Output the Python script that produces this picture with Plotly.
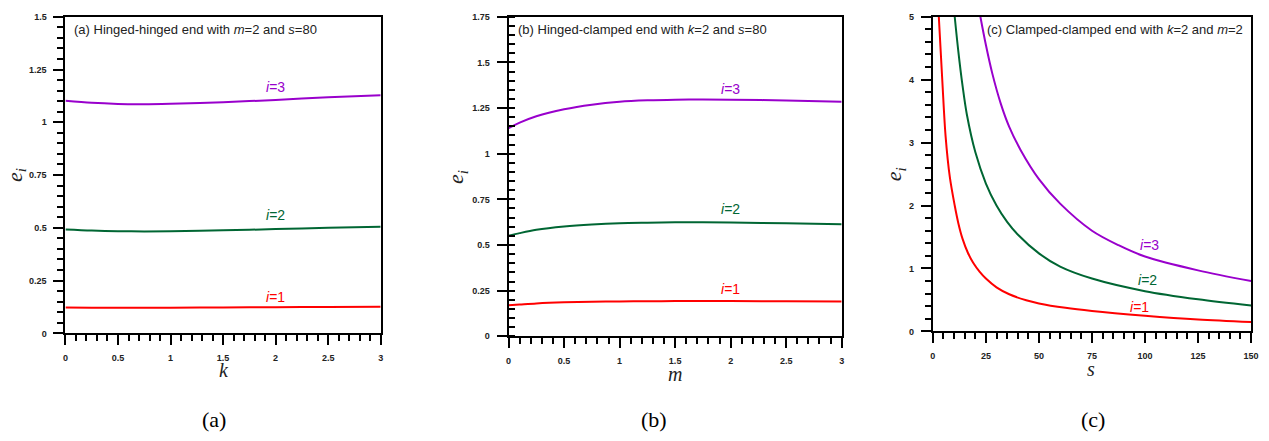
import plotly.graph_objects as go

# ---------------- data ----------------
# Panel (a): hinged-hinged, x = k
k_vals = [0, 0.25, 0.5, 0.75, 1, 1.5, 2, 2.5, 3]
a_i1 = [0.123, 0.122, 0.121, 0.121, 0.122, 0.123, 0.124, 0.125, 0.126]
a_i2 = [0.492, 0.487, 0.484, 0.483, 0.484, 0.488, 0.494, 0.500, 0.505]
a_i3 = [1.102, 1.092, 1.087, 1.086, 1.088, 1.095, 1.106, 1.118, 1.128]

# Panel (b): hinged-clamped, x = m
m_vals = [0, 0.1, 0.25, 0.5, 0.75, 1, 1.25, 1.5, 1.75, 2, 2.5, 3]
b_i1 = [0.170, 0.174, 0.180, 0.186, 0.189, 0.191, 0.192, 0.193, 0.193, 0.193, 0.192, 0.191]
b_i2 = [0.551, 0.565, 0.583, 0.601, 0.612, 0.619, 0.622, 0.624, 0.624, 0.623, 0.619, 0.614]
b_i3 = [1.140, 1.170, 1.205, 1.243, 1.268, 1.284, 1.292, 1.296, 1.297, 1.296, 1.291, 1.284]

# Panel (c): clamped-clamped, x = s
c_s1 = [2.8, 4.5, 6, 8, 10.3, 12, 14, 16.5, 19, 22, 25, 30, 36, 44, 50, 62.5, 75, 100, 125, 150]
c_i1 = [5.0, 3.95, 3.1, 2.45, 2.0, 1.72, 1.47, 1.25, 1.09, 0.95, 0.84, 0.70, 0.59, 0.495, 0.445, 0.375, 0.325, 0.25, 0.19, 0.15]
c_s2 = [10.3, 12, 14, 16, 20, 25, 30, 35, 40, 50, 60, 75, 100, 125, 150]
c_i2 = [5.0, 4.45, 3.9, 3.45, 2.85, 2.35, 2.0, 1.74, 1.54, 1.24, 1.03, 0.84, 0.64, 0.51, 0.41]
c_s3 = [22.4, 25, 28, 32, 36, 41.4, 50, 60, 75, 87.5, 100, 125, 150]
c_i3 = [5.0, 4.55, 4.1, 3.62, 3.25, 2.88, 2.42, 2.03, 1.6, 1.37, 1.19, 0.97, 0.80]

mode_names = ["<i>i</i>=1", "<i>i</i>=2", "<i>i</i>=3"]
colors = ["#FF0000", "#006633", "#9900CC"]

# label positions (data coords) per panel
a_lab_x = [2.0, 2.0, 2.0]
a_lab_y = [0.171, 0.56, 1.167]
b_lab_x = [2.0, 2.0, 2.0]
b_lab_y = [0.258, 0.695, 1.355]
c_lab_x = [97.5, 101, 102]
c_lab_y = [0.39, 0.81, 1.38]

titles = [
    "(a) Hinged-hinged end with <i>m</i>=2 and <i>s</i>=80",
    "(b) Hinged-clamped end with <i>k</i>=2 and <i>s</i>=80",
    "(c) Clamped-clamped end with <i>k</i>=2 and <i>m</i>=2",
]
panel_tags = ["(a)", "(b)", "(c)"]
x_titles = ["<i>k</i>", "<i>m</i>", "<i>s</i>"]

# ---------------- figure ----------------
W, H = 1269, 441
fig = go.Figure()

panels = [
    (k_vals, [a_i1, a_i2, a_i3], "x", "y"),
    (m_vals, [b_i1, b_i2, b_i3], "x2", "y2"),
    (None, [(c_s1, c_i1), (c_s2, c_i2), (c_s3, c_i3)], "x3", "y3"),
]
for xs, series, xa, ya in panels:
    for j, ser in enumerate(series):
        if xs is None:
            sx, sy = ser
        else:
            sx, sy = xs, ser
        fig.add_trace(go.Scatter(x=sx, y=sy, mode="lines", xaxis=xa, yaxis=ya,
                                 line=dict(color=colors[j], width=2, shape="spline", smoothing=0.9),
                                 showlegend=False, hoverinfo="skip"))

def px_x(p):
    return p / W

def px_y(p):
    return 1 - p / H

tickfont = dict(family="Liberation Sans, Arial, sans-serif", size=9, color="#222222", weight="bold")

def xaxis(dom, rng, dtick, minor_dtick, anchor):
    return dict(domain=dom, range=rng, dtick=dtick, tick0=0, anchor=anchor,
                ticks="outside", ticklen=10, tickwidth=1.5, tickcolor="black",
                showline=True, linewidth=2, linecolor="black", mirror=True,
                showgrid=False, zeroline=False, tickfont=tickfont, ticklabelstandoff=5,
                minor=dict(dtick=minor_dtick, tick0=0, ticks="outside", ticklen=6,
                           tickwidth=1.5, tickcolor="black", showgrid=False))

def yaxis(dom, rng, dtick, minor_dtick, anchor, minor_side="outside"):
    return dict(domain=dom, range=rng, dtick=dtick, tick0=0, anchor=anchor,
                ticks="outside", ticklen=10, tickwidth=1.5, tickcolor="black",
                showline=True, linewidth=2, linecolor="black", mirror=True,
                showgrid=False, zeroline=False, tickfont=tickfont, ticklabelstandoff=5,
                minor=dict(dtick=minor_dtick, tick0=0, ticks=minor_side, ticklen=6,
                           tickwidth=1.5, tickcolor="black", showgrid=False))

fig.update_layout(
    width=W, height=H,
    margin=dict(l=0, r=0, t=0, b=0),
    paper_bgcolor="white", plot_bgcolor="white",
    xaxis=xaxis([px_x(63), px_x(381)], [0, 3], 0.5, 0.1, "y"),
    yaxis=yaxis([px_y(336), px_y(12)], [0, 1.5], 0.25, 0.05, "x"),
    xaxis2=xaxis([px_x(510), px_x(846)], [0, 3], 0.5, 0.1, "y2"),
    yaxis2=yaxis([px_y(339), px_y(12)], [0, 1.75], 0.25, 0.05, "x2", "inside"),
    xaxis3=xaxis([px_x(938), px_x(1259)], [0, 150], 25, 5, "y3"),
    yaxis3=yaxis([px_y(334), px_y(12)], [0, 5], 1, 0.2, "x3"),
)

ann = []
# curve labels
for (lx, ly, xr, yr) in [(a_lab_x, a_lab_y, "x", "y"), (b_lab_x, b_lab_y, "x2", "y2"),
                         (c_lab_x, c_lab_y, "x3", "y3")]:
    for j in range(3):
        ann.append(dict(x=lx[j], y=ly[j], xref=xr, yref=yr, text=mode_names[j], showarrow=False,
                        font=dict(family="Liberation Sans, Arial, sans-serif", size=14, color=colors[j]),
                        xanchor="center", yanchor="middle"))

# panel titles inside plots
title_pos = [(70, 25), (517, 25), (991, 25)]
for t, (tx, ty) in zip(titles, title_pos):
    ann.append(dict(x=px_x(tx), y=px_y(ty), xref="paper", yref="paper", text=t, showarrow=False,
                    font=dict(family="Liberation Sans, Arial, sans-serif", size=13, color="#222222"),
                    xanchor="left", yanchor="middle"))

# x-axis titles
for t, (tx, ty) in zip(x_titles, [(223, 373), (678, 378), (1098, 372)]):
    ann.append(dict(x=px_x(tx), y=px_y(ty), xref="paper", yref="paper", text=t, showarrow=False,
                    font=dict(family="Liberation Serif, Times New Roman, serif", size=20, color="#222222"),
                    xanchor="center", yanchor="middle"))

# y-axis titles
for (tx, ty) in [(13, 174), (458, 176), (900, 173)]:
    ann.append(dict(x=px_x(tx), y=px_y(ty), xref="paper", yref="paper",
                    text="<i>e</i><sub><i>i</i></sub>", showarrow=False, textangle=-90,
                    font=dict(family="Liberation Serif, Times New Roman, serif", size=22, color="#222222"),
                    xanchor="center", yanchor="middle"))

# bottom panel tags
for t, (tx, ty) in zip(panel_tags, [(213, 424), (657, 424), (1100, 424)]):
    ann.append(dict(x=px_x(tx), y=px_y(ty), xref="paper", yref="paper", text=t, showarrow=False,
                    font=dict(family="Liberation Serif, Times New Roman, serif", size=22, color="black"),
                    xanchor="center", yanchor="middle"))

fig.update_layout(annotations=ann)
fig.write_html("out.html", post_script="document.body.style.margin='0px';")
